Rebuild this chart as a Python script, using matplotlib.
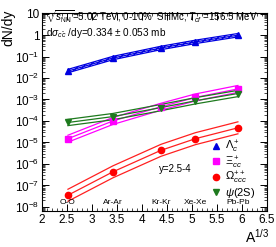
import matplotlib
matplotlib.use("Agg")
import matplotlib.pyplot as plt
import numpy as np
from matplotlib.ticker import LogLocator, MultipleLocator, NullFormatter

plt.rcParams["font.family"] = ["Liberation Sans", "DejaVu Sans"]
plt.rcParams["mathtext.fontset"] = "custom"
plt.rcParams["mathtext.rm"] = "Liberation Sans"
plt.rcParams["mathtext.it"] = "Liberation Sans:italic"

# A^(1/3) of the colliding systems
systems = ["O-O", "Ar-Ar", "Kr-Kr", "Xe-Xe", "Pb-Pb"]
a13 = [2.52, 3.42, 4.38, 5.07, 5.92]

# dN/dy central values
lambda_c = [0.021, 0.085, 0.25, 0.48, 0.98]
xi_cc = [1.5e-5, 1.0e-4, 4.6e-4, 1.25e-3, 3.1e-3]
omega_ccc = [3.5e-8, 4.3e-7, 4.3e-6, 1.5e-5, 4.8e-5]
psi2s = [8.5e-5, 1.6e-4, 4.2e-4, 8.7e-4, 1.9e-3]

# relative band width (factor up/down)
band_lc = 1.2
band_xi = 1.45
band_om = 1.9
band_psi = 1.4

fig = plt.figure(figsize=(2.76, 2.47), dpi=100)
ax = fig.add_axes([0.152, 0.146, 0.815, 0.801])
ax.set_yscale("log")
ax.set_xlim(2, 6.5)
ax.set_ylim(6.5e-9, 10.5)

x = np.array(a13)


def draw_band(vals, fac, color, hatch=False):
    v = np.array(vals)
    lo, hi = v / fac, v * fac
    if hatch:
        ax.fill_between(x, lo, hi, facecolor="none", edgecolor=color, hatch="//////", lw=0)
    for arr in (lo, v, hi):
        ax.plot(x, arr, color=color, lw=0.9)


draw_band(lambda_c, band_lc, "#0000e0", hatch=True)
draw_band(xi_cc, band_xi, "#ff00ff")
draw_band(psi2s, band_psi, "#1e7a1e")
draw_band(omega_ccc, band_om, "#ff2020")

ax.plot(a13, lambda_c, "^", color="#0000e0", ms=4.5, ls="none", label=r"$\Lambda_c^+$")
ax.plot(a13, xi_cc, "s", color="#ff00ff", ms=4.5, ls="none", label=r"$\Xi_{cc}^+$")
ax.plot(a13, omega_ccc, "o", color="#ff0000", ms=4.5, ls="none", label=r"$\Omega_{ccc}^{++}$")
ax.plot(a13, psi2s, "v", color="#1e7a1e", ms=4.5, ls="none", label=r"$\psi$(2S)")

for s, xv in zip(systems, a13):
    ax.text(xv, 1.05e-8, s, ha="center", va="bottom", fontsize=6)

ax.text(2.08, 3.0, r"$\sqrt{s_{\rm NN}}$=5.02 TeV, 0-10%  SHMc, $T_{cf}$ =156.5 MeV",
        fontsize=7, va="bottom")
ax.text(2.08, 0.6, r"d$\sigma_{c\bar{c}}$ /dy=0.334 $\pm$ 0.053 mb", fontsize=7.2, va="bottom")
ax.text(4.35, 4.0e-7, "y=2.5-4", fontsize=7)

ax.legend(loc="upper left", bbox_to_anchor=(0.725, 0.405), frameon=False, fontsize=8,
          handlelength=0.6, handletextpad=0.5, labelspacing=-0.05, borderpad=0.2)

ax.xaxis.set_major_locator(MultipleLocator(0.5))
ax.xaxis.set_minor_locator(MultipleLocator(0.1))
ax.set_xticks([2, 2.5, 3, 3.5, 4, 4.5, 5, 5.5, 6, 6.5])
ax.set_xticklabels(["2", "2.5", "3", "3.5", "4", "4.5", "5", "5.5", "6", "6.5"])
ax.yaxis.set_major_locator(LogLocator(base=10, numticks=20))
ax.yaxis.set_minor_locator(LogLocator(base=10, subs=np.arange(2, 10), numticks=20))
ax.yaxis.set_minor_formatter(NullFormatter())
ytk = [1e-8, 1e-7, 1e-6, 1e-5, 1e-4, 1e-3, 1e-2, 1e-1, 1, 10]
ax.set_yticks(ytk)
ax.set_yticklabels([r"$10^{-8}$", r"$10^{-7}$", r"$10^{-6}$", r"$10^{-5}$", r"$10^{-4}$",
                    r"$10^{-3}$", r"$10^{-2}$", r"$10^{-1}$", "1", "10"])
ax.tick_params(which="both", direction="in", top=True, right=True, labelsize=8.5, pad=2)
ax.tick_params(which="major", length=5, width=0.7)
ax.tick_params(which="minor", length=2.5, width=0.5)
for sp in ax.spines.values():
    sp.set_linewidth(0.8)

fig.text(0.975, 0.005, r"A$^{1/3}$", ha="right", va="bottom", fontsize=10)
fig.text(0.005, 0.96, "dN/dy", rotation=90, ha="left", va="top", fontsize=10)

fig.savefig("out.png", dpi=100)
